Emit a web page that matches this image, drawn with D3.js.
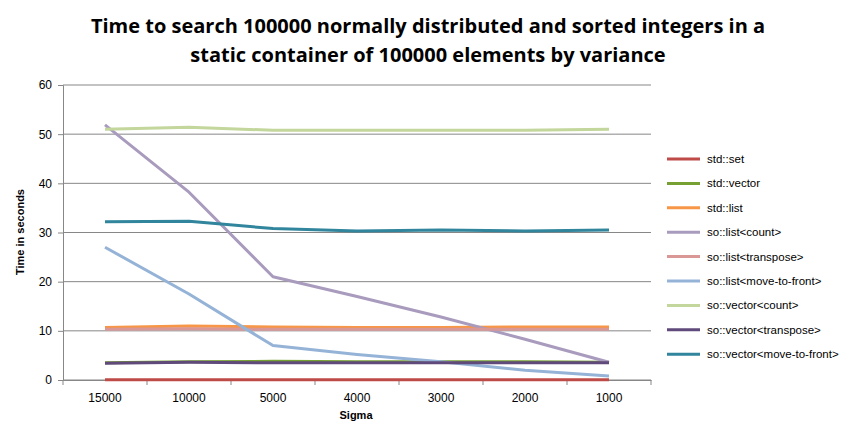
<!DOCTYPE html>
<html><head><meta charset="utf-8">
<script src="https://cdn.jsdelivr.net/npm/d3@7"></script>
<style>body{margin:0;background:#fff;font-family:"Liberation Sans",Arial,sans-serif}</style>
</head><body><svg id="c" width="856" height="441"></svg>
<script>
const categories = ['15000', '10000', '5000', '4000', '3000', '2000', '1000'];
const seriesNames = ['std::set', 'std::vector', 'std::list', 'so::list<count>', 'so::list<transpose>',
  'so::list<move-to-front>', 'so::vector<count>', 'so::vector<transpose>', 'so::vector<move-to-front>'];
const stdSet = [0.05, 0.05, 0.05, 0.05, 0.05, 0.05, 0.05];
const stdVector = [3.5, 3.7, 3.8, 3.7, 3.7, 3.7, 3.6];
const stdList = [10.7, 11, 10.8, 10.7, 10.7, 10.8, 10.8];
const soListCount = [51.9, 38.2, 21, 17, 12.8, 8.3, 3.6];
const soListTranspose = [10.3, 10.4, 10.3, 10.3, 10.3, 10.3, 10.3];
const soListMtf = [27, 17.5, 7, 5.2, 3.7, 2, 0.8];
const soVectorCount = [51, 51.4, 50.8, 50.8, 50.8, 50.8, 51];
const soVectorTranspose = [3.4, 3.6, 3.5, 3.5, 3.5, 3.5, 3.5];
const soVectorMtf = [32.2, 32.3, 30.8, 30.3, 30.5, 30.3, 30.5];
const colors = ['#BE4B48', '#77A033', '#F79646', '#A99BBD', '#D99795', '#95B3D7', '#C3D69B', '#604A7B', '#31859C'];
const series = [stdSet, stdVector, stdList, soListCount, soListTranspose, soListMtf, soVectorCount, soVectorTranspose, soVectorMtf];

const svg = d3.select('#c');
const x = d3.scaleBand().domain(categories).range([63, 651]);
const y = d3.scaleLinear().domain([0, 60]).range([380, 85]);

svg.append('text').attr('x', 428).attr('y', 33).attr('text-anchor', 'middle')
  .style('font-size', '20px').style('font-weight', 'bold').style('font-family', 'Open Sans')
  .text('Time to search 100000  normally distributed and sorted integers in a');
svg.append('text').attr('x', 428).attr('y', 62).attr('text-anchor', 'middle')
  .style('font-size', '20px').style('font-weight', 'bold').style('font-family', 'Open Sans')
  .text('static container of 100000 elements by variance');

// gridlines
svg.append('g').selectAll('line').data(y.ticks(6)).join('line')
  .attr('x1', 63).attr('x2', 651).attr('y1', d => y(d)).attr('y2', d => y(d))
  .attr('stroke', '#878787').attr('stroke-width', 1);

const ya = svg.append('g').attr('transform', 'translate(63,0)')
  .call(d3.axisLeft(y).ticks(6).tickSize(5).tickPadding(6));
const xa = svg.append('g').attr('transform', 'translate(0,380)')
  .call(d3.axisBottom(x).tickSize(0).tickPadding(13));
xa.selectAll('.tick').append('line').attr('x1', x.bandwidth() / 2).attr('x2', x.bandwidth() / 2).attr('y2', 5).attr('stroke', '#878787');
xa.append('line').attr('x1', 63).attr('x2', 63).attr('y2', 5).attr('stroke', '#878787');
[ya, xa].forEach(a => {
  a.selectAll('path,line').attr('stroke', '#878787');
  a.selectAll('text').style('font-size', '12px').attr('fill', '#000').style('font-family', 'Liberation Sans, Arial');
});

svg.append('text').attr('x', 356).attr('y', 419).attr('text-anchor', 'middle')
  .style('font-size', '11px').style('font-weight', 'bold').text('Sigma');
svg.append('text').attr('transform', 'translate(24,232) rotate(-90)').attr('text-anchor', 'middle')
  .style('font-size', '11px').style('font-weight', 'bold').text('Time in seconds');

const line = d3.line().x((d, i) => x(categories[i]) + x.bandwidth() / 2).y(d => y(d));
series.forEach((s, i) => {
  svg.append('path').datum(s).attr('d', line).attr('fill', 'none')
    .attr('stroke', colors[i]).attr('stroke-width', 3).attr('stroke-linejoin', 'round');
});

const lg = svg.append('g');
seriesNames.forEach((n, i) => {
  const yy = 159 + i * 24.4;
  lg.append('line').attr('x1', 667).attr('x2', 700).attr('y1', yy).attr('y2', yy)
    .attr('stroke', colors[i]).attr('stroke-width', 3);
  lg.append('text').attr('x', 707).attr('y', yy + 4).style('font-size', '11.5px').text(n);
});
</script></body></html>
